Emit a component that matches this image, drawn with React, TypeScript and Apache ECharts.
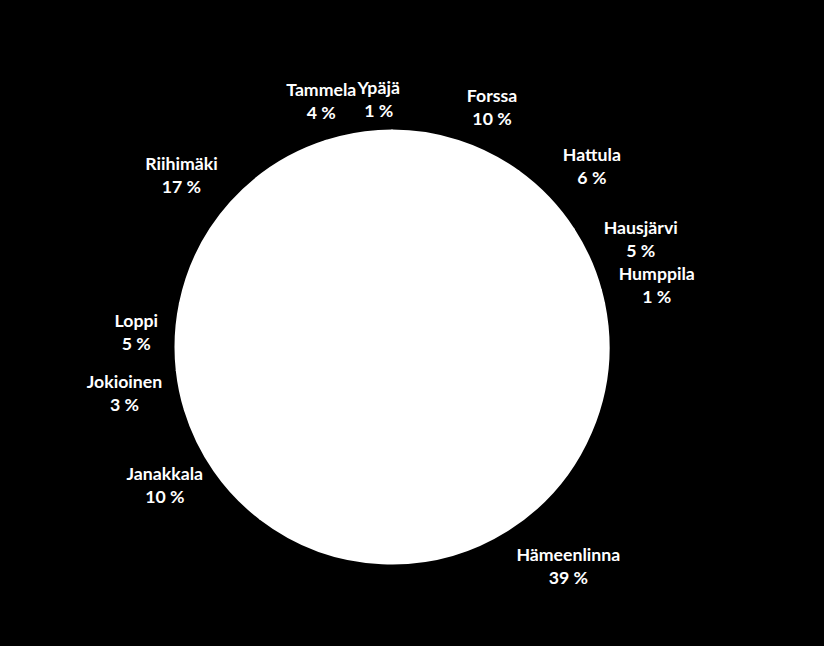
import React, { useEffect, useRef } from "react";
import * as echarts from "echarts";

const categories = [
  "Forssa",
  "Hattula",
  "Hausjärvi",
  "Humppila",
  "Hämeenlinna",
  "Janakkala",
  "Jokioinen",
  "Loppi",
  "Riihimäki",
  "Tammela",
  "Ypäjä",
];
const shares = [10, 6, 5, 1, 39, 10, 3, 5, 17, 4, 1];

// label nudges (style only), in px
const labelNudge: [number, number][] = [
  [18, 15],
  [6, 4],
  [4, 1],
  [4, 0],
  [34, -8],
  [-7, -15],
  [-5, -8],
  [12, -3],
  [-11, 7],
  [-21, 17],
  [-5, 20],
];

export default function App() {
  const ref = useRef<HTMLDivElement>(null);
  useEffect(() => {
    document.body.style.margin = "0";
    document.body.style.background = "#000";
    const chart = echarts.init(ref.current!, null, { renderer: "svg" });
    const pieData = categories.map((name, i) => ({ name, value: shares[i] }));
    const labelData = categories.map((name, i) => ({
      name,
      value: shares[i],
      label: { offset: labelNudge[i] },
    }));
    chart.setOption({
      animation: false,
      backgroundColor: "#000000",
      series: [
        {
          type: "pie",
          center: [392, 347],
          radius: [0, 216],
          startAngle: 90,
          clockwise: true,
          silent: true,
          data: pieData,
          itemStyle: { color: "#ffffff", borderColor: "#ffffff", borderWidth: 3 },
          label: { show: false },
          labelLine: { show: false },
        },
        {
          type: "pie",
          center: [392, 347],
          radius: [250, 280],
          startAngle: 90,
          clockwise: true,
          silent: true,
          data: labelData,
          itemStyle: { color: "rgba(0,0,0,0)", borderWidth: 0 },
          labelLayout: { hideOverlap: false },
          label: {
            show: true,
            position: "inside",
            formatter: "{b}\n{c} %",
            color: "#ffffff",
            fontFamily: "Lato",
            fontWeight: "bold",
            fontSize: 17.7,
            lineHeight: 23,
            align: "center",
            rotate: 0,
          },
          labelLine: { show: false },
        },
      ],
    });
    return () => chart.dispose();
  }, []);
  return (
    <div
      ref={ref}
      style={{ position: "absolute", left: 0, top: 0, width: 824, height: 646 }}
    />
  );
}
